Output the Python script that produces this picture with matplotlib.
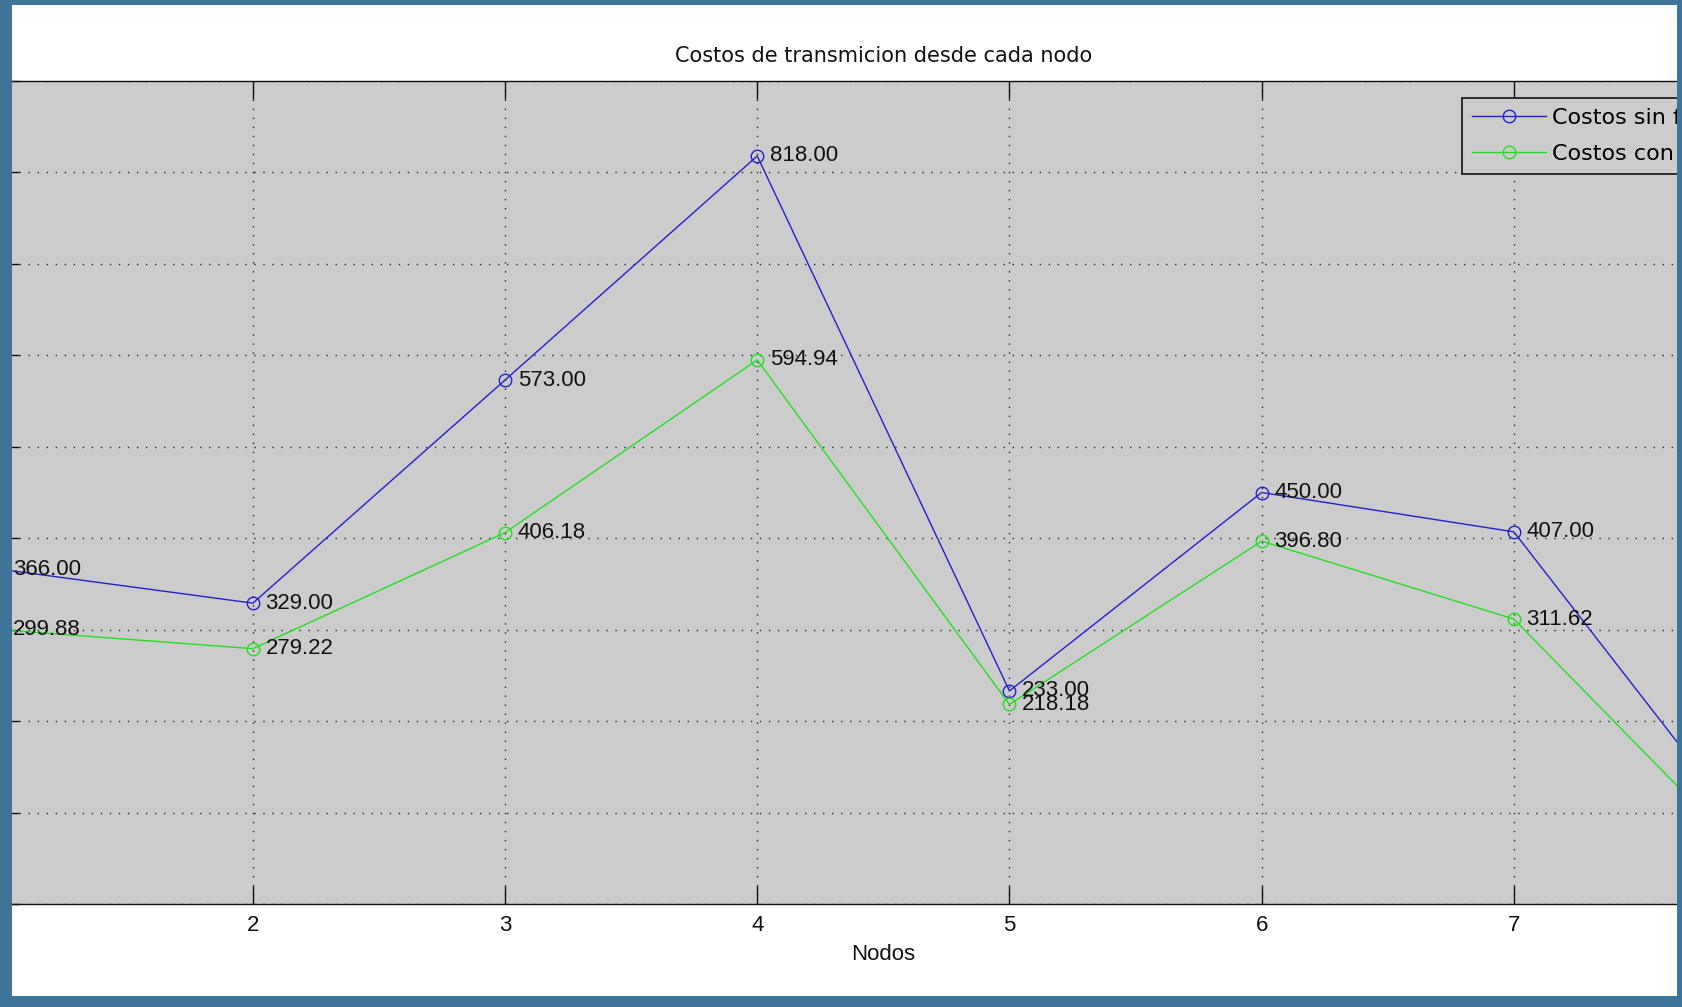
import matplotlib
matplotlib.use("Agg")
import matplotlib.pyplot as plt
from matplotlib.patches import Rectangle

# costos por nodo
nodos = [1, 2, 3, 4, 5, 6, 7, 8]
costos_sin = [366.00, 329.00, 573.00, 818.00, 233.00, 450.00, 407.00, 52.00]
costos_con = [299.88, 279.22, 406.18, 594.94, 218.18, 396.80, 311.62, 30.00]
etiquetas = ["Costos sin fusion", "Costos con fusion"]
tick_labels = ["", "2", "3", "4", "5", "6", "7", ""]

W, H = 1683, 1007
plt.rcParams['font.family'] = ['Liberation Sans', 'DejaVu Sans']

fig = plt.figure(figsize=(W / 100, H / 100), dpi=100, facecolor="white")

# axes in pixel units: x=1 at 0.7px, x=8 at 1766px, top 81px, bottom 904px
left, right, top, bottom = 0.7, 1766, 81, 904
ax = fig.add_axes([left / W, (H - bottom) / H, (right - left) / W, (bottom - top) / H])
ax.set_facecolor("#cccccc")

azul = "#2222cc"
verde = "#22dd22"
ax.plot(nodos, costos_sin, color=azul, lw=1.0, marker="o", ms=9,
        mfc="none", mec=azul, mew=1.0, label=etiquetas[0], zorder=3)
ax.plot(nodos, costos_con, color=verde, lw=1.0, marker="o", ms=9,
        mfc="none", mec=verde, mew=1.0, label=etiquetas[1], zorder=3)

# value labels for the nodes inside the window
for x, y in zip(nodos[:7], costos_sin[:7]):
    ax.text(x + 0.05, y, "%.2f" % y, fontsize=16, va="center", ha="left", color="#111111", zorder=4)
for x, y in zip(nodos[:7], costos_con[:7]):
    ax.text(x + 0.05, y, "%.2f" % y, fontsize=16, va="center", ha="left", color="#111111", zorder=4)

ax.set_xlim(1, 8)
ax.set_ylim(0, 900)
ax.set_xticks(nodos)
ax.set_xticklabels(tick_labels)
ax.set_yticks(range(0, 901, 100))
ax.grid(True, color="#222222", lw=1.0, linestyle=(0, (1, 5.5)))
ax.set_axisbelow(True)
ax.tick_params(direction="in", length=13, width=1.0, top=True, right=True,
               labelleft=False, labelsize=16, pad=8, colors="#111111")
for s in ax.spines.values():
    s.set_linewidth(1.0)
    s.set_color("#111111")

ax.set_title("Costos de transmicion desde cada nodo", fontsize=15, color="#111111",
             pad=14, family="DejaVu Sans")
ax.set_xlabel("Nodos", fontsize=16, color="#111111", labelpad=6)

leg = ax.legend(loc="upper left", bbox_to_anchor=(1462 / W, (H - 98) / H),
                bbox_transform=fig.transFigure, frameon=True,
                prop={"family": "DejaVu Sans", "size": 16},
                fancybox=False, handlelength=3.3, handletextpad=0.27,
                borderpad=0.46, labelspacing=0.7, borderaxespad=0)
leg.get_frame().set_facecolor("#cccccc")
leg.get_frame().set_edgecolor("#111111")
leg.get_frame().set_linewidth(1.2)
leg.get_frame().set_alpha(1)

# blue slide border around the figure window
borde = "#3f7499"
for (x0, y0, w, h) in [(0, 0, 12, H), (1677, 0, W - 1677, H), (0, 0, W, 5), (0, 996, W, H - 996)]:
    fig.add_artist(Rectangle((x0 / W, (H - y0 - h) / H), w / W, h / H,
                             transform=fig.transFigure, facecolor=borde,
                             edgecolor="none", zorder=10))

fig.savefig("out.png", dpi=100)
